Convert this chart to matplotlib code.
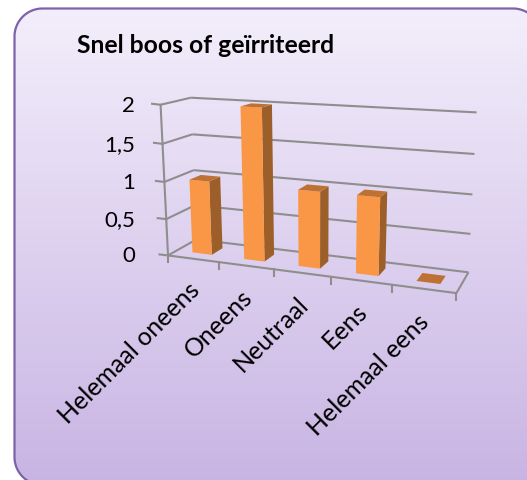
import numpy as np
import matplotlib
matplotlib.use("Agg")
import matplotlib.pyplot as plt
from matplotlib.patches import Polygon

categories = ["Helemaal oneens", "Oneens", "Neutraal", "Eens", "Helemaal eens"]
values = [1, 2, 1, 1, 0]
y_ticks = [0, 0.5, 1, 1.5, 2]
y_tick_labels = ["0", "0,5", "1", "1,5", "2"]
title = "Snel boos of geïrriteerd"

plt.rcParams['font.family'] = ['Lato', 'DejaVu Sans']

GRID = '#8e8e8e'
FRONT = '#f99746'
SIDE = '#9c5f2a'
TOP = '#bd7233'


# the chart is a fake 3d one, so fit a camera to the corners of its box
# (category, depth, value) -> pixel
calib = [
    ((0, 0, 0), (168.3, 255.5)), ((5, 0, 0), (456.7, 293.3)),
    ((0, 1, 0), (196.7, 240.0)), ((5, 1, 0), (468.3, 271.7)),
    ((0, 0, 2), (160.7, 105.0)), ((0, 1, 2), (190.7, 97.7)),
    ((5, 1, 2), (476.7, 113.0)), ((0, 0, 1), (164.3, 181.0)),
    ((0, 1, 1), (193.3, 170.0)), ((5, 1, 1), (472.7, 194.0)),
    ((1, 0, 0), (220.0, 262.3)), ((2, 0, 0), (274.0, 269.3)),
    ((3, 0, 0), (331.3, 277.0)), ((4, 0, 0), (392.0, 285.0)),
]
rows = []
rhs = []
for (a, b, c), (px, py) in calib:
    rows.append([a, b, c, 1, 0, 0, 0, 0, -px * a, -px * b, -px * c])
    rows.append([0, 0, 0, 0, a, b, c, 1, -py * a, -py * b, -py * c])
    rhs += [px, py]
cam = np.append(np.linalg.lstsq(np.array(rows, float), np.array(rhs, float), rcond=None)[0], 1).reshape(3, 4)


def proj(u, d, v):
    x, y, w = cam @ np.array([u, d, v, 1.0])
    return x / w, y / w


def line3d(ax, a, b, lw=1.5):
    pa, pb = proj(*a), proj(*b)
    ax.plot([pa[0], pb[0]], [pa[1], pb[1]], color=GRID, lw=lw, solid_capstyle='butt', zorder=2)


def round_rect(x0, y0, x1, y1, r):
    pts = []
    corners = [(x0 + r, y0 + r, 180), (x1 - r, y0 + r, 270), (x1 - r, y1 - r, 0), (x0 + r, y1 - r, 90)]
    for cx, cy, start in corners:
        a = np.radians(np.linspace(start, start + 90, 30))
        pts += list(zip(cx + r * np.cos(a), cy + r * np.sin(a)))
    return pts


fig = plt.figure(figsize=(5.27, 4.8), dpi=100)
ax = fig.add_axes([0, 0, 1, 1])

# card with vertical gradient
card = Polygon(round_rect(14.5, 8.5, 541, 485, 28), closed=True, facecolor='none',
               edgecolor='#7d62a9', lw=1.6, zorder=1.5)
top_col = np.array([243, 238, 251]) / 255
bot_col = np.array([200, 180, 227]) / 255
t = np.linspace(0, 1, 256)[:, None, None]
grad = top_col[None, None, :] * (1 - t) + bot_col[None, None, :] * t
im = ax.imshow(grad, extent=(14.5, 541, 485, 8.5), aspect='auto', zorder=1)
ax.add_patch(card)
im.set_clip_path(card)
ax.set_xlim(0, 527)
ax.set_ylim(480, 0)
ax.axis('off')

ax.text(77, 53, title, fontsize=17.8, fontweight='bold', color='black', ha='left', va='baseline')

# walls and floor
n = len(categories)
for v, lab in zip(y_ticks, y_tick_labels):
    line3d(ax, (0, 0, v), (0, 1, v))
    line3d(ax, (0, 1, v), (n, 1, v))
    px, py = proj(0, 0, v)
    ax.plot([px - 8.5, px], [py - 1, py], color=GRID, lw=1.5, zorder=2)
    ax.text(135, py + 1, lab, fontsize=16, ha='right', va='center', color='black')
line3d(ax, (0, 0, 0), (0, 0, 2))
line3d(ax, (0, 0, 0), (n, 0, 0))
line3d(ax, (n, 0, 0), (n, 1, 0))
for i in range(n + 1):
    px, py = proj(i, 0, 0)
    ax.plot([px - 0.5, px - 0.5], [py, py + 7], color=GRID, lw=1.5, zorder=2)

# bars
gap = 0.31
d0, d1 = 0.3, 0.7
for i, val in enumerate(values):
    u0, u1 = i + gap, i + 1 - gap
    if val > 0:
        front = [proj(u0, d0, 0), proj(u1, d0, 0), proj(u1, d0, val), proj(u0, d0, val)]
        side = [proj(u1, d0, 0), proj(u1, d1, 0), proj(u1, d1, val), proj(u1, d0, val)]
        ax.add_patch(Polygon(side, facecolor=SIDE, edgecolor='none', zorder=3))
        ax.add_patch(Polygon(front, facecolor=FRONT, edgecolor='none', zorder=3))
    lid = [proj(u0, d0, val), proj(u1, d0, val), proj(u1, d1, val), proj(u0, d1, val)]
    ax.add_patch(Polygon(lid, facecolor=TOP, edgecolor='none', zorder=3))

# rotated category labels, anchored at their upper right end
label_ends = [(196, 286), (249, 294), (305, 301), (363, 308), (425, 318)]
for lab, (lx, ly) in zip(categories, label_ends):
    ax.text(lx, ly, lab, fontsize=18, rotation=45, rotation_mode='anchor',
            ha='right', va='center', color='black')

fig.savefig('out.png', dpi=100)
